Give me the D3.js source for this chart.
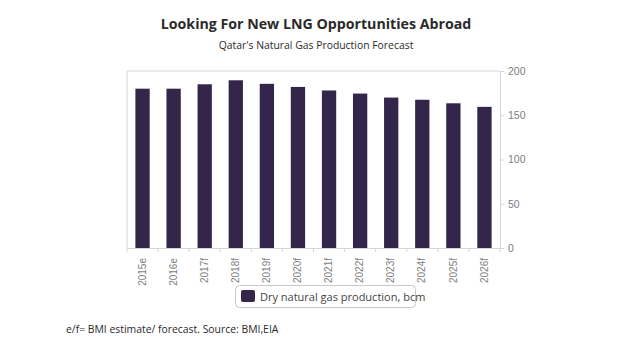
<!DOCTYPE html>
<html><head><meta charset="utf-8">
<script src="https://cdn.jsdelivr.net/npm/d3@7"></script>
<style>body{margin:0;background:#fff}svg{display:block;font-family:"Open Sans",sans-serif}</style>
</head><body><svg id="c" width="620" height="355"></svg>
<script>
const categories = ["2015e","2016e","2017f","2018f","2019f","2020f","2021f","2022f","2023f","2024f","2025f","2026f"];
const production = [180, 180, 185, 189.5, 185.5, 182, 178, 174.5, 170, 167.5, 163.5, 159.5];
const yTicks = [0, 50, 100, 150, 200];
const seriesName = "Dry natural gas production, bcm";
const title = "Looking For New LNG Opportunities Abroad";
const subtitle = "Qatar's Natural Gas Production Forecast";
const footnote = "e/f= BMI estimate/ forecast. Source: BMI,EIA";

const svg = d3.select("#c");
const L = 127, R = 500, T = 71, B = 248;
const barColor = "#33264a", gridCol = "#d6d6d6", textCol = "#7e7e7e";

const x = d3.scaleBand().domain(categories).range([L, R]).paddingInner(0.54).paddingOuter(0.27);
const y = d3.scaleLinear().domain([0, 200]).range([B, T]);

svg.append("line").attr("x1", L).attr("x2", L).attr("y1", T).attr("y2", B).attr("stroke", gridCol);
svg.append("line").attr("x1", L).attr("x2", R).attr("y1", T).attr("y2", T).attr("stroke", gridCol);

svg.selectAll("rect.bar").data(production).join("rect").attr("class", "bar")
  .attr("x", (d, i) => x(categories[i])).attr("width", x.bandwidth())
  .attr("y", d => y(d)).attr("height", d => B - y(d)).attr("fill", barColor);

const ya = svg.append("g").attr("transform", `translate(${R},0)`)
  .call(d3.axisRight(y).tickValues(yTicks).tickSize(4).tickPadding(4));
ya.select(".domain").attr("stroke", gridCol);
ya.selectAll(".tick line").attr("stroke", gridCol);
ya.selectAll(".tick text").attr("fill", textCol).style("font-size", "10.5px");

const xa = svg.append("g").attr("transform", `translate(0,${B})`)
  .call(d3.axisBottom(x).tickSize(0).tickPadding(0));
xa.select(".domain").attr("stroke", gridCol);
xa.selectAll(".tick text").attr("fill", textCol).style("font-size", "10px")
  .attr("transform", "rotate(-90)").attr("text-anchor", "end").attr("dx", "-10px").attr("dy", "0.32em").attr("x", 0).attr("y", 0);
const step = x.step();
const bounds = categories.map((c, i) => x(c) - (step - x.bandwidth()) / 2).concat([R]);
svg.append("g").selectAll("line").data(bounds).join("line")
  .attr("x1", d => d).attr("x2", d => d).attr("y1", B).attr("y2", B + 4).attr("stroke", gridCol);

const lg = svg.append("g");
lg.append("rect").attr("x", 235.5).attr("y", 285.5).attr("width", 180).attr("height", 22).attr("rx", 4)
  .attr("fill", "#fff").attr("stroke", "#c8c8c8");
lg.append("rect").attr("x", 241).attr("y", 290).attr("width", 14).attr("height", 12).attr("rx", 2).attr("fill", barColor);
lg.append("text").attr("x", 260).attr("y", 300.5).text(seriesName).attr("fill", "#444").style("font-size", "11px");

svg.append("text").attr("x", 316).attr("y", 29).attr("text-anchor", "middle").text(title)
  .attr("fill", "#2a2a2a").style("font-size", "14.2px").style("font-weight", "bold");
svg.append("text").attr("x", 316).attr("y", 49).attr("text-anchor", "middle").text(subtitle)
  .attr("fill", "#2a2a2a").style("font-size", "10.4px");
svg.append("text").attr("x", 66).attr("y", 333).text(footnote)
  .attr("fill", "#2a2a2a").style("font-size", "10.4px");
</script></body></html>
